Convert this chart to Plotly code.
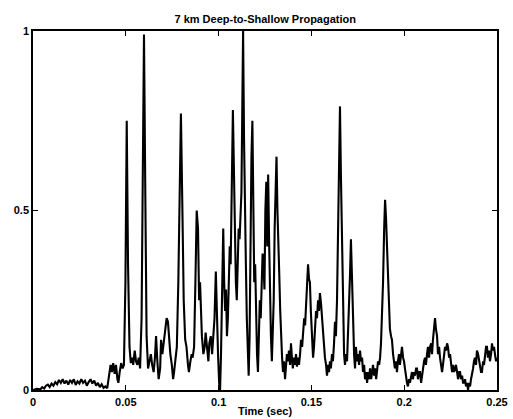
import plotly.graph_objects as go

title_text = "7 km Deep-to-Shallow Propagation"
x_label = "Time (sec)"
x_ticks = [0, 0.05, 0.1, 0.15, 0.2, 0.25]
x_tick_labels = ["0", "0.05", "0.1", "0.15", "0.2", "0.25"]
y_ticks = [0, 0.5, 1]
y_tick_labels = ["0", "0.5", "1"]

time_s = [
    0.000, 0.002, 0.004, 0.005, 0.006, 0.007, 0.008, 0.009, 0.010, 0.011,
    0.012, 0.013, 0.014, 0.015, 0.016, 0.017, 0.018, 0.019, 0.020, 0.021,
    0.022, 0.023, 0.024, 0.025, 0.026, 0.027, 0.028, 0.029, 0.030, 0.031,
    0.032, 0.033, 0.034, 0.035, 0.036, 0.037, 0.038, 0.039, 0.040,
    0.0410, 0.0418, 0.0425, 0.0432, 0.0440, 0.0447, 0.0455, 0.0460, 0.0467, 0.0475,
    0.0483, 0.0490, 0.0498, 0.0505, 0.0512, 0.0520, 0.0527, 0.0535, 0.0540, 0.0548,
    0.0555, 0.0562, 0.0570, 0.0577, 0.0585, 0.0592, 0.0598, 0.0605, 0.0612, 0.0620,
    0.0627, 0.0635, 0.0642, 0.0650, 0.0657, 0.0663, 0.0670, 0.0677, 0.0685, 0.0690,
    0.0697, 0.0705, 0.0712, 0.0720, 0.0727, 0.0735, 0.0740, 0.0748, 0.0755, 0.0760,
    0.0768, 0.0775, 0.0783, 0.0790, 0.0797, 0.0805, 0.0812, 0.0820, 0.0827, 0.0835,
    0.0840, 0.0848, 0.0855, 0.0860, 0.0868, 0.0875, 0.0882, 0.0889, 0.0895, 0.0900,
    0.0905, 0.0910, 0.0918, 0.0925, 0.0930, 0.0938, 0.0945, 0.0950, 0.0958, 0.0965,
    0.0970, 0.0978, 0.0985, 0.0990, 0.0997, 0.1003, 0.1008, 0.1013, 0.1020, 0.1025,
    0.1030, 0.1035, 0.1040, 0.1045, 0.1050, 0.1055, 0.1060, 0.1065, 0.1070, 0.1077,
    0.1083, 0.1088, 0.1093, 0.1098, 0.1103, 0.1108, 0.1113, 0.1118, 0.1123, 0.1128,
    0.1132, 0.1137, 0.1142, 0.1147, 0.1152, 0.1157, 0.1162, 0.1167, 0.1172, 0.1177,
    0.1182, 0.1187, 0.1192, 0.1197, 0.1202, 0.1207, 0.1212, 0.1217, 0.1222, 0.1227,
    0.1232, 0.1237, 0.1242, 0.1247, 0.1252, 0.1257, 0.1262, 0.1267, 0.1272, 0.1277,
    0.1282, 0.1287, 0.1292, 0.1297, 0.1302, 0.1307, 0.1312, 0.1317, 0.1322, 0.1327,
    0.1332, 0.1337, 0.1342, 0.1347, 0.1352, 0.1358, 0.1363, 0.1368, 0.1374, 0.1379,
    0.1385, 0.1390, 0.1395, 0.1400, 0.1406, 0.1411, 0.1417, 0.1422, 0.1428, 0.1433,
    0.1439, 0.1444, 0.1450, 0.1455, 0.1461, 0.1466, 0.1472, 0.1477, 0.1482, 0.1487,
    0.1492, 0.1497, 0.1503, 0.1509, 0.1514, 0.1520, 0.1525, 0.1530, 0.1536, 0.1541,
    0.1546, 0.1552, 0.1557, 0.1562, 0.1568, 0.1573, 0.1579, 0.1584, 0.1590, 0.1595,
    0.1600, 0.1605, 0.1611, 0.1616, 0.1622, 0.1627, 0.1632, 0.1638, 0.1643, 0.1649,
    0.1654, 0.1659, 0.1665, 0.1670, 0.1676, 0.1681, 0.1686, 0.1692, 0.1697, 0.1703,
    0.1708, 0.1713, 0.1719, 0.1724, 0.1730, 0.1735, 0.1740, 0.1746, 0.1751, 0.1757,
    0.1762, 0.1767, 0.1773, 0.1778, 0.1784, 0.1789, 0.1795, 0.1800, 0.1805, 0.1811,
    0.1816, 0.1822, 0.1827, 0.1832, 0.1838, 0.1843, 0.1849, 0.1853, 0.1859, 0.1865,
    0.1870, 0.1875, 0.1881, 0.1886, 0.1892, 0.1897, 0.1902, 0.1907, 0.1913, 0.1918,
    0.1923, 0.1929, 0.1934, 0.1940, 0.1945, 0.1950, 0.1956, 0.1961, 0.1966, 0.1972,
    0.1977, 0.1983, 0.1988, 0.1994, 0.1999, 0.2004, 0.2010, 0.2015, 0.2020, 0.2026,
    0.2031, 0.2037, 0.2042, 0.2047, 0.2053, 0.2058, 0.2064, 0.2069, 0.2074, 0.2080,
    0.2085, 0.2091, 0.2096, 0.2101, 0.2107, 0.2112, 0.2117, 0.2123, 0.2128, 0.2134,
    0.2139, 0.2145, 0.2150, 0.2155, 0.2161, 0.2166, 0.2171, 0.2177, 0.2182, 0.2188,
    0.2193, 0.2198, 0.2204, 0.2209, 0.2215, 0.2220, 0.2225, 0.2231, 0.2236, 0.2242,
    0.2247, 0.2252, 0.2258, 0.2263, 0.2269, 0.2274, 0.2279, 0.2285, 0.2290, 0.2296,
    0.2301, 0.2306, 0.2312, 0.2317, 0.2322, 0.2328, 0.2333, 0.2339, 0.2344, 0.2349,
    0.2355, 0.2360, 0.2365, 0.2371, 0.2376, 0.2381, 0.2387, 0.2392, 0.2398, 0.2403,
    0.2408, 0.2414, 0.2419, 0.2425, 0.2430, 0.2435, 0.2441, 0.2446, 0.2451, 0.2457,
    0.2462, 0.2468, 0.2473, 0.2478, 0.2484, 0.2489, 0.2495, 0.2500,
]

amplitude = [
    0.000, 0.003, 0.002, 0.008, 0.004, 0.012, 0.015, 0.008, 0.018, 0.012,
    0.022, 0.016, 0.028, 0.020, 0.030, 0.018, 0.026, 0.015, 0.028, 0.020,
    0.030, 0.014, 0.024, 0.018, 0.030, 0.020, 0.026, 0.012, 0.022, 0.030,
    0.018, 0.026, 0.012, 0.020, 0.008, 0.016, 0.006, 0.010, 0.005,
    0.040, 0.070, 0.050, 0.075, 0.045, 0.070, 0.030, 0.020, 0.050, 0.075,
    0.060, 0.070, 0.300, 0.750, 0.350, 0.120, 0.075, 0.090, 0.070, 0.110,
    0.080, 0.070, 0.090, 0.060, 0.200, 0.600, 0.990, 0.550, 0.150, 0.060,
    0.080, 0.100, 0.070, 0.050, 0.090, 0.150, 0.080, 0.030, 0.060, 0.140,
    0.100, 0.130, 0.160, 0.200, 0.190, 0.120, 0.100, 0.070, 0.030, 0.050,
    0.080, 0.120, 0.300, 0.600, 0.770, 0.500, 0.250, 0.140, 0.120, 0.070,
    0.050, 0.080, 0.100, 0.090, 0.120, 0.300, 0.500, 0.450, 0.250, 0.300,
    0.200, 0.150, 0.100, 0.120, 0.160, 0.120, 0.080, 0.130, 0.150, 0.100,
    0.140, 0.200, 0.330, 0.200, 0.100, 0.020, 0.000, 0.100, 0.300, 0.450,
    0.300, 0.220, 0.280, 0.150, 0.200, 0.300, 0.400, 0.350, 0.550, 0.780,
    0.600, 0.350, 0.300, 0.250, 0.380, 0.450, 0.420, 0.480, 0.550, 0.800,
    1.000, 0.700, 0.450, 0.350, 0.200, 0.100, 0.040, 0.150, 0.450, 0.650,
    0.750, 0.550, 0.300, 0.350, 0.200, 0.100, 0.050, 0.150, 0.250, 0.200,
    0.300, 0.380, 0.350, 0.280, 0.500, 0.580, 0.400, 0.600, 0.420, 0.250,
    0.150, 0.080, 0.180, 0.250, 0.450, 0.550, 0.650, 0.500, 0.370, 0.320,
    0.220, 0.140, 0.090, 0.050, 0.080, 0.030, 0.070, 0.100, 0.080, 0.110,
    0.070, 0.130, 0.090, 0.060, 0.090, 0.070, 0.100, 0.065, 0.090, 0.070,
    0.100, 0.140, 0.120, 0.160, 0.200, 0.180, 0.260, 0.330, 0.350, 0.310,
    0.300, 0.220, 0.140, 0.090, 0.120, 0.180, 0.220, 0.200, 0.250, 0.220,
    0.270, 0.240, 0.200, 0.170, 0.120, 0.090, 0.070, 0.040, 0.070, 0.050,
    0.080, 0.060, 0.100, 0.080, 0.130, 0.190, 0.150, 0.250, 0.420, 0.650,
    0.790, 0.600, 0.380, 0.180, 0.100, 0.070, 0.100, 0.080, 0.150, 0.220,
    0.320, 0.420, 0.300, 0.180, 0.100, 0.060, 0.120, 0.080, 0.100, 0.070,
    0.110, 0.080, 0.090, 0.050, 0.070, 0.030, 0.050, 0.020, 0.050, 0.030,
    0.060, 0.030, 0.050, 0.070, 0.040, 0.060, 0.030, 0.050, 0.080, 0.070,
    0.090, 0.130, 0.200, 0.300, 0.450, 0.530, 0.480, 0.400, 0.300, 0.220,
    0.170, 0.150, 0.140, 0.100, 0.080, 0.060, 0.080, 0.050, 0.080, 0.100,
    0.070, 0.110, 0.120, 0.090, 0.080, 0.060, 0.030, 0.020, 0.010, 0.030,
    0.020, 0.040, 0.050, 0.030, 0.050, 0.040, 0.060, 0.060, 0.030, 0.050,
    0.050, 0.020, 0.040, 0.070, 0.080, 0.090, 0.070, 0.100, 0.120, 0.090,
    0.120, 0.130, 0.100, 0.140, 0.170, 0.200, 0.170, 0.150, 0.100, 0.120,
    0.090, 0.070, 0.050, 0.070, 0.100, 0.120, 0.110, 0.130, 0.120, 0.090,
    0.100, 0.070, 0.050, 0.070, 0.050, 0.060, 0.070, 0.050, 0.030, 0.050,
    0.050, 0.030, 0.040, 0.020, 0.020, 0.030, 0.010, 0.020, 0.000, 0.020,
    0.010, 0.030, 0.040, 0.060, 0.080, 0.090, 0.070, 0.110, 0.100, 0.080,
    0.060, 0.050, 0.050, 0.080, 0.070, 0.100, 0.120, 0.120, 0.090, 0.110,
    0.080, 0.100, 0.130, 0.110, 0.120, 0.100, 0.080, 0.090,
]

font_family = "Liberation Sans, Arial, sans-serif"

fig = go.Figure()
fig.add_trace(go.Scatter(
    x=time_s, y=amplitude, mode="lines",
    line=dict(color="black", width=2.1),
    showlegend=False, hoverinfo="skip",
))

axis_common = dict(
    showline=True, linecolor="black", linewidth=1.6, mirror="ticks",
    ticks="inside", ticklen=5, tickwidth=1.3, tickcolor="black",
    showgrid=False, zeroline=False, automargin=False,
    tickfont=dict(family=font_family, size=11, color="black", weight="bold"),
)

fig.update_layout(
    width=513, height=419,
    margin=dict(l=33, r=16, t=31, b=29),
    paper_bgcolor="white", plot_bgcolor="white",
    title=dict(
        text=title_text, x=0.517, xanchor="center", y=0.955, yanchor="middle",
        font=dict(family=font_family, size=11, color="black", weight="bold"),
    ),
    xaxis=dict(
        range=[0, 0.25], tickvals=x_ticks, ticktext=x_tick_labels,
        ticklabelstandoff=1,
        title=dict(text=x_label, standoff=0,
                   font=dict(family=font_family, size=11, color="black", weight="bold")),
        **axis_common,
    ),
    yaxis=dict(
        range=[0, 1], tickvals=y_ticks, ticktext=y_tick_labels,
        **axis_common,
    ),
)

fig.write_html("out.html")
